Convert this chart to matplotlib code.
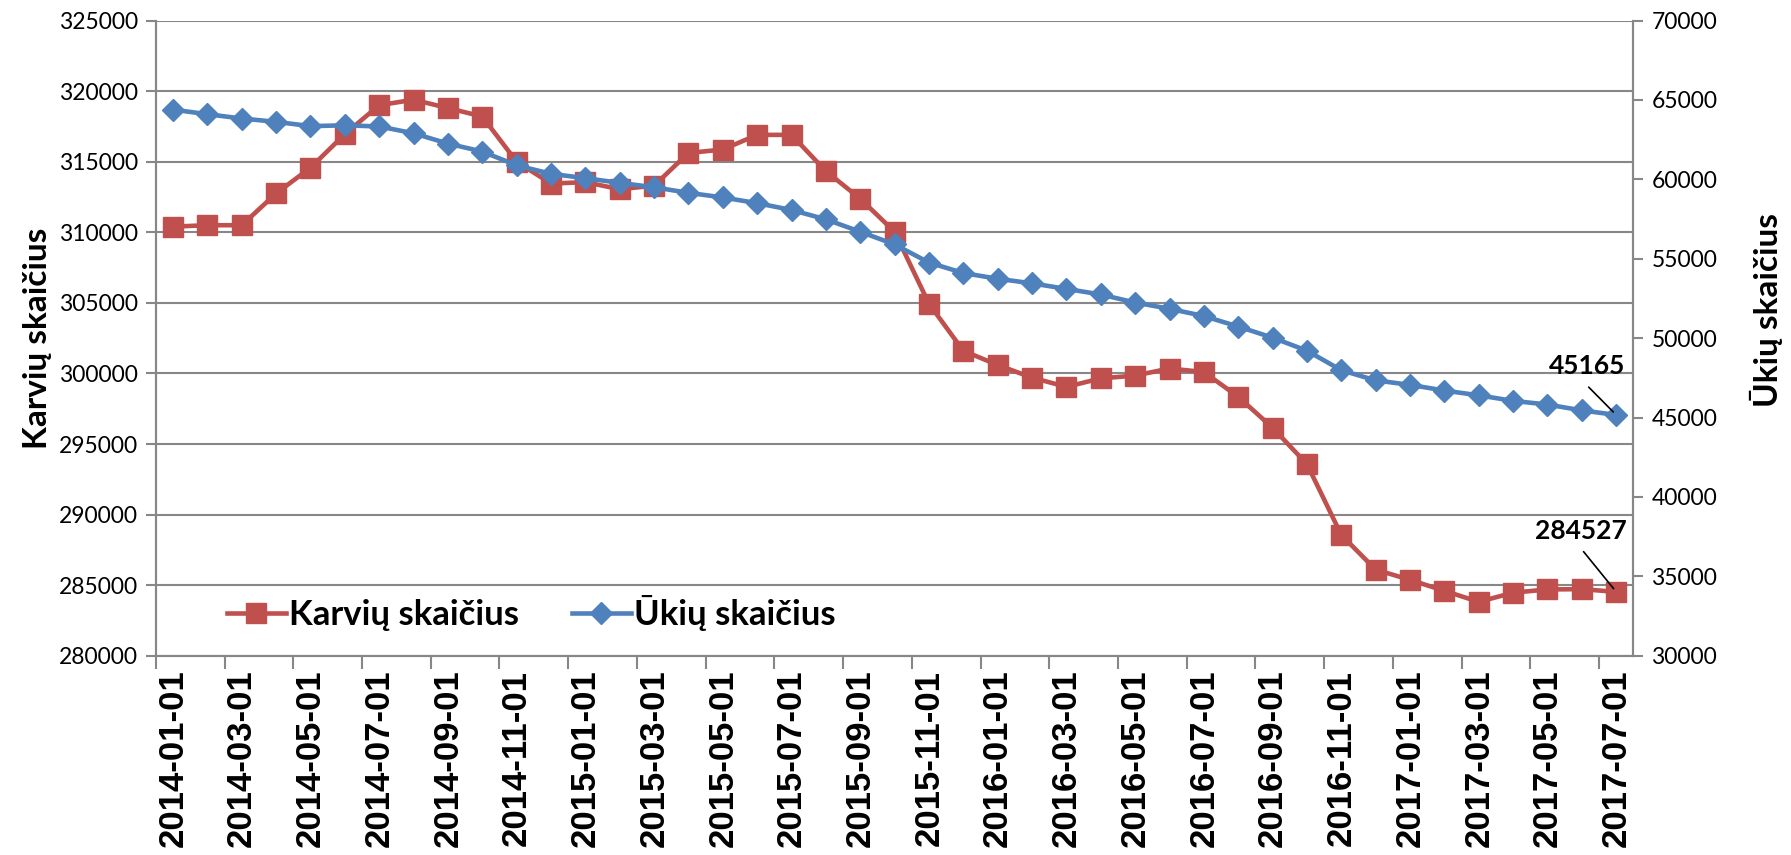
import numpy as np
import pandas as pd
import matplotlib
matplotlib.use('Agg')
import matplotlib.pyplot as plt

# month categories 2014-01 .. 2017-07
months = pd.date_range('2014-01-01', '2017-07-01', freq='MS').strftime('%Y-%m-%d').tolist()

# Karvių skaičius (left axis)
cows = [310400, 310500, 310500, 312750, 314570, 316950, 319000, 319390, 318800, 318200,
        315000, 313450, 313550, 313050, 313300, 315620, 315860, 316900, 316900, 314330,
        312380, 310030, 304940, 301600, 300600, 299700, 299050, 299650, 299850, 300350,
        300100, 298350, 296150, 293580, 288560, 286100, 285380, 284600, 283820, 284470,
        284700, 284720, 284527]

# Ūkių skaičius (right axis)
farms = [64390, 64100, 63830, 63620, 63350, 63400, 63330, 62900, 62250, 61750,
         60880, 60350, 60070, 59780, 59500, 59150, 58860, 58500, 58070, 57480,
         56700, 55900, 54760, 54100, 53740, 53450, 53100, 52750, 52240, 51850,
         51390, 50730, 50030, 49210, 47980, 47340, 47060, 46700, 46400, 46050,
         45820, 45450, 45165]

red = '#C0504D'
blue = '#4F81BD'
grid_c = '#878787'
narrow = ['Lato', 'DejaVu Sans']

x = np.arange(len(months))

fig = plt.figure(figsize=(17.91, 8.55), dpi=100)
ax = fig.add_axes([0.087, 0.233, 0.825, 0.743])
ax2 = ax.twinx()

l1, = ax.plot(x, cows, color=red, lw=3.3, marker='s', ms=14.5, label='Karvių skaičius')
l2, = ax2.plot(x, farms, color=blue, lw=3.3, marker='D', ms=11, label='Ūkių skaičius')

ax.set_xlim(-0.5, len(months) - 0.5)
ax.set_ylim(280000, 325000)
ax.set_yticks(np.arange(280000, 325001, 5000))
ax2.set_ylim(30000, 70000)
ax2.set_yticks(np.arange(30000, 70001, 5000))

ax.set_xticks(np.arange(-0.5, len(months), 2))
ax.set_xticklabels([])
ax.set_xticks(x[::2], minor=True)
ax.set_xticklabels(months[::2], minor=True, rotation=90, fontsize=25,
                   fontweight='bold', family='Liberation Sans')
ax.tick_params(axis='x', which='minor', length=0, pad=10)
ax.tick_params(axis='x', which='major', length=9, color=grid_c, width=1.5)

ax.grid(axis='y', color=grid_c, lw=1.5)
ax.set_axisbelow(True)
for a in (ax, ax2):
    a.spines['top'].set_visible(False)
    for s in ('left', 'right', 'bottom'):
        a.spines[s].set_color(grid_c)
        a.spines[s].set_linewidth(1.5)
ax.tick_params(axis='y', length=7, color=grid_c, width=1.5, pad=6)
ax2.tick_params(axis='y', length=7, color=grid_c, width=1.5, pad=6)
for lab in ax.get_yticklabels() + ax2.get_yticklabels():
    lab.set_family(narrow)
    lab.set_fontsize(16.5)

ax.set_ylabel('Karvių skaičius', fontsize=24, fontweight='bold', family=narrow)
ax.yaxis.set_label_coords(-0.07, 0.5)
ax2.set_ylabel('Ūkių skaičius', fontsize=24, fontweight='bold', family=narrow)
ax2.yaxis.set_label_coords(1.079, 0.545)

ax2.legend(handles=[l1, l2], loc='center left', bbox_to_anchor=(0.027, 0.067), ncol=2,
           frameon=False, handlelength=1.7, handletextpad=0.1, columnspacing=1.5,
           prop={'family': narrow, 'size': 25, 'weight': 'bold'})

# end-point labels with leader lines
ax2.annotate('', xy=(x[-1], farms[-1]), xytext=(x[-1] - 0.8, farms[-1] + 1750),
             arrowprops=dict(arrowstyle='-', color='black', lw=1.2, shrinkA=0, shrinkB=3))
ax2.text(x[-1] + 0.25, farms[-1] + 3100, str(farms[-1]), ha='right', va='center',
         fontsize=19, fontweight='bold', family=narrow)
ax.annotate('', xy=(x[-1], cows[-1]), xytext=(x[-1] - 0.95, cows[-1] + 2850),
            arrowprops=dict(arrowstyle='-', color='black', lw=1.2, shrinkA=0, shrinkB=3))
ax.text(x[-1] + 0.3, cows[-1] + 4300, str(cows[-1]), ha='right', va='center',
        fontsize=19, fontweight='bold', family=narrow)

fig.savefig('out.png', dpi=100)
